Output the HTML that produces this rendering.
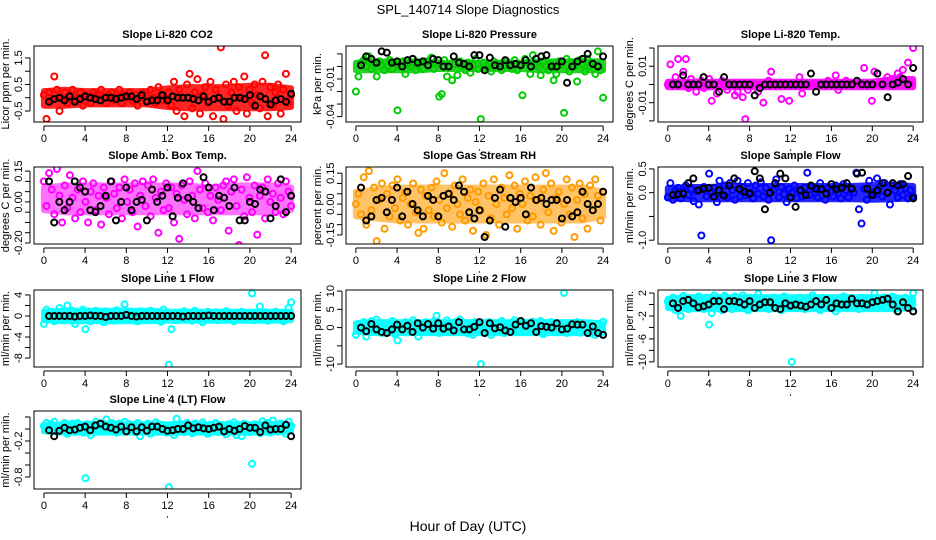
<!DOCTYPE html>
<html><head><meta charset="utf-8"><style>
html,body{margin:0;padding:0;background:#fff}
svg{display:block;font-family:"Liberation Sans",Arial,sans-serif}
</style></head><body>
<svg id="chart" width="936" height="540" viewBox="0 0 936 540">
<text x="468" y="14" text-anchor="middle" font-size="13">SPL_140714  Slope Diagnostics</text>
<text x="468" y="531" text-anchor="middle" font-size="14">Hour of Day (UTC)</text>
</svg>
<script>
// x tick labels (hours)
const xTicks = [0,4,8,12,16,20,24];
const xDomain = [0,24];

// Panel 1: Li-820 CO2
const co2Cloud = [0.1,-0.8,0.2,-0.1,0.8,0.3,-0.5,0.0,0.2,-0.2,0.1,0.3,-0.1,0.0,0.2,-0.3,0.1,0.0,-0.2,0.2,0.1,-0.1,0.3,0.0,-0.2,0.1,0.2,-0.1,0.0,0.3,-0.2,0.1,0.0,0.2,-0.1,0.1,-0.3,0.0,0.2,0.1,-0.1,0.3,0.0,-0.2,0.4,0.1,-0.1,0.0,0.2,-0.3,0.6,-0.5,0.3,0.0,-0.7,0.5,0.9,-0.4,0.2,0.7,-0.6,0.1,0.4,-0.2,0.6,-0.7,0.3,0.0,1.9,-0.8,0.5,-0.3,0.2,0.6,-0.5,0.4,0.0,0.8,-0.6,0.3,-0.2,0.5,0.1,-0.4,0.6,1.6,-0.7,0.4,-0.3,0.2,0.5,-0.6,0.3,0.9,-0.2,0.1];
const co2Black = [-0.15,-0.05,0.0,-0.1,0.05,-0.15,-0.05,0.05,0.0,-0.05,-0.1,0.0,0.0,-0.05,0.0,0.05,0.05,-0.05,0.1,-0.15,-0.1,-0.1,0.1,-0.1,0.05,0.0,0.0,0.0,-0.05,-0.1,0.05,-0.15,-0.05,0.0,-0.15,-0.15,0.0,0.0,-0.05,0.1,-0.3,0.05,-0.05,-0.25,-0.1,-0.05,-0.15,0.15];
const co2BandLo = [-0.3,-0.3,-0.25,-0.25,-0.25,-0.25,-0.35,-0.4,-0.4,-0.4,-0.4,-0.4,-0.35];
const co2BandHi = [0.25,0.3,0.25,0.25,0.25,0.25,0.35,0.4,0.4,0.4,0.45,0.45,0.35];

// Panel 2: Li-820 Pressure
const presCloud = [-0.02,-0.008,0.003,0.005,0.0,0.008,-0.002,0.002,-0.008,0.004,0.001,-0.003,0.0,0.005,-0.002,0.003,-0.035,0.0,0.004,-0.006,0.002,0.0,0.006,-0.003,0.001,0.003,-0.002,0.004,0.0,0.007,-0.002,0.003,-0.024,-0.022,0.005,-0.008,0.0,-0.011,0.002,-0.007,0.004,0.0,-0.003,0.003,-0.005,0.001,0.006,-0.002,-0.042,0.003,0.0,0.002,-0.004,0.004,0.0,0.002,-0.003,0.001,0.004,0.0,-0.002,0.005,-0.003,0.002,-0.023,0.006,0.003,-0.006,0.009,0.002,0.0,-0.007,0.004,0.0,-0.003,0.002,-0.011,-0.006,0.004,0.001,-0.037,0.006,-0.004,0.003,0.0,-0.012,0.005,0.002,-0.004,0.006,0.0,0.003,-0.006,0.012,-0.003,-0.025];
const presBlack = [0.001,0.008,0.006,0.003,0.012,0.011,0.003,0.004,0.0,0.005,0.006,0.003,0.004,0.001,0.006,0.005,0.0,0.0,0.008,0.003,0.002,0.0,0.009,0.009,-0.003,0.007,0.001,0.0,0.005,0.001,0.002,0.001,0.005,0.0,0.006,0.008,0.009,0.0,0.0,0.004,-0.013,0.0,0.004,0.006,0.010,0.002,0.0,0.008];
const presBandLo = [-0.003,-0.003,-0.003,-0.003,-0.002,-0.002,-0.002,-0.002,-0.002,-0.003,-0.003,-0.003,-0.003];
const presBandHi = [0.003,0.004,0.004,0.004,0.003,0.003,0.003,0.003,0.003,0.004,0.004,0.004,0.004];

// Panel 3: Li-820 Temp.
const tempCloud = [0.0,0.011,0.0,0.004,0.014,0.0,0.007,0.014,-0.002,0.003,0.0,-0.004,0.0,0.002,-0.002,0.0,0.003,-0.009,0.0,-0.005,0.0,0.002,0.0,-0.003,0.0,0.0,-0.006,-0.004,0.0,-0.007,-0.019,-0.003,0.0,0.0,0.0,-0.004,0.0,-0.010,0.0,0.002,0.007,0.0,0.0,0.0,-0.008,0.0,0.0,-0.009,0.0,0.0,0.0,0.004,-0.005,0.0,0.0,0.0,0.0,0.0,0.0,0.0,0.0,0.0,0.002,0.0,0.0,0.005,-0.003,0.0,0.0,0.002,0.0,0.0,0.0,0.0,0.0,0.0,0.009,0.0,0.0,-0.009,0.007,0.0,0.0,0.0,0.002,0.004,0.0,0.003,0.0,0.006,0.004,0.008,0.002,0.012,0.0,0.020];
const tempBlack = [0.0,0.0,0.005,0.0,0.0,0.0,0.004,0.0,0.0,-0.004,0.004,0.0,0.0,0.0,0.0,0.0,-0.006,-0.002,0.0,0.0,0.0,0.0,0.0,0.0,0.0,0.0,0.0,0.006,-0.004,0.0,0.0,0.0,0.0,0.0,0.0,0.0,0.002,0.0,0.0,0.0,0.006,0.0,-0.007,0.0,0.001,0.003,0.0,0.009];
const tempBandLo = [-0.0015,-0.0015,-0.0015,-0.0015,-0.0015,-0.0015,-0.0015,-0.0015,-0.0015,-0.0015,-0.0015,-0.0015,-0.0015];
const tempBandHi = [0.0015,0.0015,0.0015,0.0015,0.0015,0.0015,0.0015,0.0015,0.0015,0.0015,0.0015,0.003,0.003];

// Panel 4: Amb. Box Temp.
const ambCloud = [0.1,-0.02,0.14,0.06,-0.06,0.16,0.03,-0.1,0.08,-0.03,0.13,0.02,-0.08,0.06,-0.05,0.1,0.0,-0.1,0.05,0.09,-0.04,0.03,-0.11,0.07,0.02,-0.06,0.1,0.04,-0.03,0.07,-0.08,0.11,0.0,0.06,-0.05,0.09,-0.12,0.03,0.1,-0.02,0.08,-0.07,0.11,0.02,-0.15,0.05,-0.04,0.09,-0.03,0.07,-0.1,0.04,-0.18,0.08,0.01,-0.06,0.1,0.03,-0.08,0.15,0.06,-0.03,0.09,-0.05,0.03,-0.09,0.07,0.01,-0.04,0.08,0.1,-0.14,0.05,0.11,-0.02,-0.21,0.06,-0.07,0.12,0.02,-0.05,0.08,-0.16,0.03,0.07,-0.08,0.11,0.0,0.04,-0.05,0.09,0.02,-0.06,0.1,0.05,-0.02];
const ambBlack = [0.1,-0.1,0.0,-0.04,0.0,0.1,0.07,0.05,-0.04,-0.05,-0.02,0.03,0.1,-0.09,0.0,0.07,-0.04,0.0,0.01,-0.09,0.06,0.0,0.03,0.07,-0.07,0.02,0.09,0.02,0.0,-0.03,0.12,0.07,-0.04,0.03,0.02,-0.02,0.07,-0.09,-0.09,0.0,-0.01,0.06,0.05,-0.08,-0.02,0.11,-0.05,0.03];
const ambBandLo = [-0.04,-0.05,-0.05,-0.05,-0.05,-0.05,-0.05,-0.05,-0.05,-0.05,-0.05,-0.05,-0.04];
const ambBandHi = [0.07,0.08,0.08,0.08,0.08,0.08,0.08,0.08,0.07,0.08,0.08,0.08,0.07];

// Panel 5: Gas Stream RH
const rhCloud = [0.0,0.05,-0.05,0.13,-0.1,0.16,-0.03,0.08,-0.18,0.02,0.1,-0.12,0.05,-0.06,0.09,-0.02,0.12,-0.08,0.03,0.06,-0.1,0.0,0.1,-0.04,-0.14,0.07,-0.12,0.04,-0.03,0.08,-0.06,0.11,0.02,-0.09,0.15,-0.02,0.05,-0.11,0.09,0.0,-0.05,0.12,-0.08,0.03,0.07,-0.13,0.01,0.06,-0.03,0.1,-0.15,0.04,-0.07,0.12,0.0,-0.1,0.08,0.03,-0.05,0.14,-0.02,0.09,-0.12,0.05,0.0,0.11,-0.08,0.04,-0.06,0.13,0.02,-0.1,0.07,0.15,-0.04,0.1,-0.13,0.03,0.06,-0.09,0.0,0.12,-0.05,0.08,-0.16,0.02,0.1,-0.07,0.05,-0.12,0.09,-0.03,0.12,0.04,-0.08,0.06];
const rhBlack = [0.08,-0.08,-0.06,0.02,0.03,-0.04,0.02,0.08,-0.06,0.06,0.0,-0.03,-0.06,0.04,0.02,-0.06,0.04,0.05,0.02,0.09,0.06,-0.04,-0.07,-0.03,-0.16,-0.08,0.03,0.07,-0.11,0.03,0.01,0.03,-0.05,0.08,0.02,0.03,0.0,0.02,0.02,-0.07,0.02,-0.06,-0.04,0.06,0.0,-0.03,0.0,0.06];
const rhBandLo = [-0.06,-0.07,-0.08,-0.08,-0.08,-0.08,-0.08,-0.08,-0.08,-0.08,-0.08,-0.08,-0.06];
const rhBandHi = [0.06,0.07,0.08,0.08,0.08,0.08,0.08,0.08,0.08,0.08,0.08,0.08,0.06];

// Panel 6: Sample Flow
const sampCloud = [-0.1,0.2,-0.15,0.05,0.1,-0.12,0.0,0.15,-0.05,0.08,-0.18,0.03,-0.25,-0.9,0.12,-0.08,0.4,0.0,0.1,-0.2,0.25,-0.05,0.15,-0.1,0.2,0.05,-0.15,0.25,-0.08,0.12,-0.05,0.2,0.0,-0.12,0.15,-0.02,0.22,-0.08,0.1,-0.15,-1.0,0.05,0.28,-0.1,0.12,-0.03,-0.2,0.08,0.0,0.15,-0.12,0.05,-0.08,0.1,0.42,-0.05,0.12,0.0,-0.1,0.2,0.08,-0.15,0.1,0.02,-0.08,0.15,0.0,-0.12,0.18,0.05,-0.1,0.1,0.0,0.42,-0.35,-0.65,0.08,-0.15,0.25,0.0,-0.05,0.3,0.12,-0.08,0.2,0.0,-0.25,0.15,0.05,-0.1,0.18,-0.05,0.1,-0.12,0.05,-0.08];
const sampBlack = [-0.05,-0.03,-0.02,0.2,0.3,0.05,0.08,0.1,-0.08,0.05,-0.06,0.15,0.3,0.08,0.02,-0.02,0.45,0.3,-0.35,0.0,0.2,0.4,0.3,-0.1,-0.3,0.05,-0.05,0.15,0.08,0.07,-0.02,0.18,0.07,0.1,0.2,0.08,0.4,0.42,0.08,-0.05,0.05,0.2,0.0,0.2,0.15,0.18,0.35,-0.12];
const sampBandLo = [-0.12,-0.14,-0.14,-0.14,-0.14,-0.14,-0.14,-0.14,-0.14,-0.14,-0.15,-0.14,-0.12];
const sampBandHi = [0.1,0.12,0.12,0.14,0.14,0.14,0.14,0.14,0.14,0.14,0.16,0.16,0.14];

// Panel 7: Line 1 Flow
const l1Cloud = [-1.5,1.2,-0.5,0.8,-1.0,0.4,1.5,-0.8,0.2,2.0,-0.4,1.0,-1.5,0.6,-0.2,1.2,-2.5,0.8,-1.0,0.3,1.0,-0.7,0.5,-1.2,0.9,-0.3,0.6,-0.9,1.1,-0.4,0.2,2.2,-0.6,0.8,-0.2,0.5,-1.0,0.9,-0.3,0.6,-0.7,1.0,0.0,-0.5,0.7,-1.1,1.2,-0.3,-9.3,-2.5,0.4,-0.8,0.6,-0.2,0.9,-0.6,0.3,-0.9,1.0,-0.4,0.5,-1.2,0.2,0.8,-0.5,-0.1,0.7,-0.8,0.4,-0.3,0.9,-0.6,0.3,-1.0,0.6,-0.2,0.8,-0.7,0.1,0.5,4.3,-0.8,0.6,1.8,-0.4,0.7,-0.9,0.3,-0.2,0.8,-0.6,0.4,-1.0,0.5,1.5,2.6];
const l1Black = [0,0,0,0,0,-0.1,0,0,0.1,0,0,-0.2,0,0,0,0.2,0,-0.1,0,0,0,0,0,0,0,0,-0.1,0,0,0,0,0.1,0,0,0,0,0,0,0,0,0,0,0,0,0,0,0,0];
const l1BandLo = [-0.8,-1.0,-1.0,-1.0,-1.0,-1.0,-0.9,-0.9,-0.9,-0.9,-0.9,-0.9,-0.8];
const l1BandHi = [0.8,1.0,1.0,1.0,1.0,1.0,0.8,0.8,0.8,0.8,0.8,0.8,0.8];

// Panel 8: Line 2 Flow
const l2Cloud = [-2.0,1.0,-0.5,1.5,-2.5,0.5,1.8,-1.0,2.2,0.0,-1.5,1.2,-0.8,0.5,1.8,-1.8,-3.5,0.8,-0.5,1.5,0.0,-1.2,2.0,-0.4,-2.5,1.0,-0.8,1.5,0.3,-1.0,1.8,3.2,-1.5,0.6,-0.3,2.0,-1.2,0.4,1.5,-0.8,2.2,-0.5,1.2,-1.6,0.6,-2.0,1.5,-0.5,-10.0,0.8,-1.2,1.5,-2.0,0.5,1.0,-0.8,1.8,-1.5,0.3,1.2,-0.6,2.0,-1.0,0.5,1.5,-1.2,0.8,-0.3,1.6,-1.0,0.4,1.8,-1.8,0.6,-0.5,1.5,0.0,-1.2,1.0,-0.6,9.5,-1.5,0.5,1.2,-0.8,1.5,-1.4,0.8,-0.3,1.2,-1.6,0.5,-2.0,1.0,-0.6,1.6];
const l2Black = [0,-1,1,-0.5,-1.2,-1.5,-0.5,0.8,-0.5,0.5,-1.2,1.2,0,1,-0.3,1.2,-0.3,0.3,-0.8,1.5,-0.5,-0.5,0.2,1.5,-1.5,1.2,-0.2,0.1,-0.8,-1.2,0.8,1.8,0.5,1.2,-1.2,0.4,0.2,0,1.2,-0.5,-0.3,0.9,0.8,0.8,-1.5,0.3,-1.5,-2];
const l2BandLo = [-1.2,-1.5,-1.5,-1.5,-1.5,-1.5,-1.5,-1.5,-1.5,-1.5,-1.5,-1.5,-1.5];
const l2BandHi = [1.2,1.5,1.5,1.5,1.5,1.5,1.5,1.5,1.5,1.5,1.5,1.5,1.2];

// Panel 9: Line 3 Flow
const l3Cloud = [0.5,-0.5,1.2,-1.0,0.0,-2.0,1.5,0.2,-0.8,1.0,0.5,-0.3,1.4,0.0,-0.8,1.2,-3.5,-1.5,1.6,0.0,0.8,-1.0,1.5,-0.2,0.6,-0.8,1.4,0.2,-0.5,1.6,0.0,-1.0,1.2,0.4,-0.6,1.8,0.2,-0.4,1.0,-0.8,0.6,1.2,-0.2,0.4,-1.0,1.4,0.0,-0.5,-10.0,0.8,-0.6,1.2,0.2,-0.8,1.0,0.0,1.6,-0.4,0.6,-1.0,1.2,0.2,-0.6,1.0,0.4,-1.2,0.8,0.0,1.4,-0.6,0.6,1.0,-0.3,0.8,-0.8,1.2,0.2,-0.4,1.0,0.5,2.0,-0.6,0.8,0.0,1.2,-0.5,0.6,1.4,-0.8,0.2,1.0,-0.4,1.2,0.0,0.4,2.0];
const l3Black = [0.2,-0.6,0.6,0.8,0.2,-0.5,-0.3,0.0,0.6,0.6,-0.8,0.6,0.6,0.4,0.0,0.6,-0.6,0.0,0.4,0.4,-0.6,-0.8,0.2,-0.2,0.0,-0.2,-0.4,0.0,0.6,0.0,0.8,-0.6,0.2,0.0,0.0,1.0,0.2,0.2,0.0,0.4,0.6,0.8,1.0,0.0,-1.2,0.4,-0.6,-1.2];
const l3BandLo = [-0.6,-0.8,-0.8,-0.8,-0.8,-0.8,-0.8,-0.8,-0.8,-0.8,-0.8,-0.8,-0.6];
const l3BandHi = [1.0,1.3,1.3,1.3,1.3,1.3,1.3,1.3,1.3,1.3,1.3,1.3,1.0];

// Panel 10: Line 4 (LT) Flow
const l4Cloud = [0.05,0.1,-0.02,0.08,0.12,-0.05,0.06,0.0,0.1,-0.08,0.04,0.09,-0.03,0.1,0.02,-0.06,-0.82,0.08,-0.1,0.05,0.12,-0.04,0.08,0.02,0.16,-0.02,0.1,0.04,-0.06,0.09,0.0,0.12,-0.03,0.08,0.02,-0.05,0.1,-0.12,0.06,0.0,0.09,-0.08,0.05,0.11,-0.04,0.07,0.02,-0.06,-0.97,0.06,-0.1,0.17,0.0,0.08,-0.05,0.1,0.03,-0.07,0.09,0.01,-0.04,0.11,0.02,-0.08,0.07,0.0,0.1,-0.05,0.06,0.03,-0.09,0.08,0.01,0.11,-0.1,0.05,-0.12,0.09,0.0,-0.05,-0.58,0.08,0.02,-0.07,0.13,0.0,0.1,-0.06,0.14,0.03,-0.04,0.09,0.01,-0.08,0.12,0.05];
const l4Black = [-0.02,-0.12,-0.03,0.02,-0.02,-0.01,0.02,0.04,-0.02,0.06,0.09,0.04,0.02,-0.01,0.04,-0.04,0.03,-0.04,0.03,-0.03,0.04,0.04,0.0,-0.03,-0.02,0.0,0.0,0.06,0.01,0.03,0.01,0.0,0.02,0.04,-0.04,0.0,-0.03,0.0,0.05,0.02,0.02,-0.05,0.06,-0.01,0.0,0.0,0.07,-0.12];
const l4BandLo = [-0.04,-0.06,-0.06,-0.06,-0.06,-0.06,-0.06,-0.06,-0.06,-0.06,-0.06,-0.06,-0.04];
const l4BandHi = [0.06,0.08,0.08,0.09,0.08,0.08,0.08,0.08,0.08,0.08,0.08,0.09,0.07];

const panels = [
 {id:'co2',title:'Slope Li-820 CO2',ylab:'Licor ppm per min.',col:0,row:0,ylim:[-0.915,1.95],ticks:[-0.5,0,0.5,1,1.5],labels:['-0.5','','0.5','','1.5'],color:'#ff0000',op:0.85,cloud:co2Cloud,black:co2Black,lo:co2BandLo,hi:co2BandHi},
 {id:'pressure',title:'Slope Li-820 Pressure',ylab:'kPa per min.',col:1,row:0,ylim:[-0.0443,0.0163],ticks:[-0.04,-0.03,-0.02,-0.01,0,0.01],labels:['-0.04','','','-0.01','',''],color:'#00cc00',op:0.85,cloud:presCloud,black:presBlack,lo:presBandLo,hi:presBandHi},
 {id:'temp',title:'Slope Li-820 Temp.',ylab:'degrees C per min.',col:2,row:0,ylim:[-0.0206,0.0211],ticks:[-0.02,-0.01,0,0.01,0.02],labels:['','-0.01','','0.01',''],color:'#ff00ff',op:0.9,cloud:tempCloud,black:tempBlack,lo:tempBandLo,hi:tempBandHi},
 {id:'amb-temp',title:'Slope Amb. Box Temp.',ylab:'degrees C per min.',col:0,row:1,ylim:[-0.205,0.17],ticks:[-0.2,-0.15,-0.1,-0.05,0,0.05,0.1,0.15],labels:['-0.20','','','','0.00','','','0.15'],color:'#ff00ff',op:0.55,cloud:ambCloud,black:ambBlack,lo:ambBandLo,hi:ambBandHi},
 {id:'rh',title:'Slope Gas Stream RH',ylab:'percent per min.',col:1,row:1,ylim:[-0.194,0.18],ticks:[-0.15,-0.1,-0.05,0,0.05,0.1,0.15],labels:['-0.15','','','0.00','','','0.15'],color:'#ff9a00',op:0.6,cloud:rhCloud,black:rhBlack,lo:rhBandLo,hi:rhBandHi},
 {id:'sample-flow',title:'Slope Sample Flow',ylab:'ml/min per min.',col:2,row:1,ylim:[-1.08,0.54],ticks:[-1,-0.5,0,0.5],labels:['-1.0','','0.0','0.5'],color:'#0000ff',op:0.85,cloud:sampCloud,black:sampBlack,lo:sampBandLo,hi:sampBandHi},
 {id:'line1',title:'Slope Line 1 Flow',ylab:'ml/min per min.',col:0,row:2,ylim:[-9.7,4.94],ticks:[-8,-6,-4,-2,0,2,4],labels:['-8','','-4','','0','','4'],color:'#00ffff',op:0.9,cloud:l1Cloud,black:l1Black,lo:l1BandLo,hi:l1BandHi},
 {id:'line2',title:'Slope Line 2 Flow',ylab:'ml/min per min.',col:1,row:2,ylim:[-10.8,10.3],ticks:[-10,-5,0,5,10],labels:['-10','','0','5','10'],color:'#00ffff',op:0.9,cloud:l2Cloud,black:l2Black,lo:l2BandLo,hi:l2BandHi},
 {id:'line3',title:'Slope Line 3 Flow',ylab:'ml/min per min.',col:2,row:2,ylim:[-10.9,2.53],ticks:[-10,-8,-6,-4,-2,0,2],labels:['-10','','-6','','-2','','2'],color:'#00ffff',op:0.9,cloud:l3Cloud,black:l3Black,lo:l3BandLo,hi:l3BandHi},
 {id:'line4',title:'Slope Line 4 (LT) Flow',ylab:'ml/min per min.',col:0,row:3,ylim:[-1.0,0.3],ticks:[-0.8,-0.6,-0.4,-0.2,0,0.2],labels:['-0.8','','','-0.2','',''],color:'#00ffff',op:0.9,cloud:l4Cloud,black:l4Black,lo:l4BandLo,hi:l4BandHi}
];

const colX = [[34,301],[346,613],[658,923]];
const rowY = [[46,122],[167,244],[290,367],[411,489]];
const NS = 'http://www.w3.org/2000/svg';
const svg = document.getElementById('chart');
function mk(tag, attrs, parent){
  const e = document.createElementNS(NS, tag);
  for (const k in attrs) e.setAttribute(k, attrs[k]);
  parent.appendChild(e);
  return e;
}
panels.forEach(p => {
  const L = colX[p.col][0], R = colX[p.col][1], T = rowY[p.row][0], B = rowY[p.row][1];
  const pad = (xDomain[1]-xDomain[0])*0.04;
  const xs = v => L + (v - (xDomain[0]-pad)) / ((xDomain[1]-xDomain[0]) + 2*pad) * (R - L);
  const ys = v => B - (v - p.ylim[0]) / (p.ylim[1] - p.ylim[0]) * (B - T);
  const g = mk('g', {}, svg);
  
  
  const title = mk('text', {x:(L+R)/2, y:T-8, 'text-anchor':'middle', 'font-size':11, 'font-weight':'bold'}, g);
  title.textContent = p.title;
  
  
  const cp = mk('clipPath', {id:'clip-'+p.id}, g);
  mk('rect', {x:L, y:T, width:R-L, height:B-T}, cp);
  const pts = mk('g', {'clip-path':'url(#clip-'+p.id+')'}, g);
  
  
  const k = p.lo.length;
  const bx = i => xs(xDomain[0] + i*(xDomain[1]-xDomain[0])/(k-1));
  let d = '';
  p.hi.forEach((v,i) => { d += (i ? 'L' : 'M') + bx(i).toFixed(1) + ',' + ys(v).toFixed(1); });
  for (let i = k-1; i >= 0; i--) d += 'L' + bx(i).toFixed(1) + ',' + ys(p.lo[i]).toFixed(1);
  d += 'Z';
  const band = mk('path', {d:d, fill:p.color, stroke:p.color, 'stroke-width':6, 'stroke-linejoin':'round', opacity:p.op}, pts);
  
  
  const n = p.cloud.length;
  p.cloud.forEach((v, i) => {
    const c = mk('circle', {cx:xs(xDomain[0] + i*(xDomain[1]-xDomain[0])/(n-1)), cy:ys(v), r:3, fill:'none', stroke:p.color, 'stroke-width':2}, pts);
    
    
  });
  const m = p.black.length;
  p.black.forEach((v, i) => {
    const c = mk('circle', {cx:xs(0.5 + i*23.5/(m-1)), cy:ys(v), r:3, fill:'none', stroke:'#000', 'stroke-width':2}, pts);
    
    
  });
  const box = mk('rect', {x:L, y:T, width:R-L, height:B-T, fill:'none', stroke:'#000', 'stroke-width':1}, g);
  
  
  mk('line', {x1:xs(xTicks[0]), x2:xs(xTicks[xTicks.length-1]), y1:B+4, y2:B+4, stroke:'#000'}, g);
  xTicks.forEach(t => {
    mk('line', {x1:xs(t), x2:xs(t), y1:B+4, y2:B+9, stroke:'#000'}, g);
    const tl = mk('text', {x:xs(t), y:B+20, 'text-anchor':'middle', 'font-size':11}, g);
    tl.textContent = t;
    
    
  });
  mk('circle', {cx:xs(12), cy:B+28, r:0.7, fill:'#000'}, g);
  mk('line', {x1:L-4, x2:L-4, y1:ys(p.ticks[0]), y2:ys(p.ticks[p.ticks.length-1]), stroke:'#000'}, g);
  p.ticks.forEach((t, i) => {
    mk('line', {x1:L-9, x2:L-4, y1:ys(t), y2:ys(t), stroke:'#000'}, g);
    if (p.labels[i]) {
      const yl = mk('text', {x:0, y:0, 'text-anchor':'middle', 'font-size':11, transform:'translate('+(L-12)+','+ys(t)+') rotate(-90)'}, g);
      yl.textContent = p.labels[i];
      
      
    }
  });
  const yt = mk('text', {x:0, y:0, 'text-anchor':'middle', 'font-size':11, transform:'translate('+(L-25)+','+((T+B)/2)+') rotate(-90)'}, g);
  yt.textContent = p.ylab;
  
  
});
</script>
</body></html>
